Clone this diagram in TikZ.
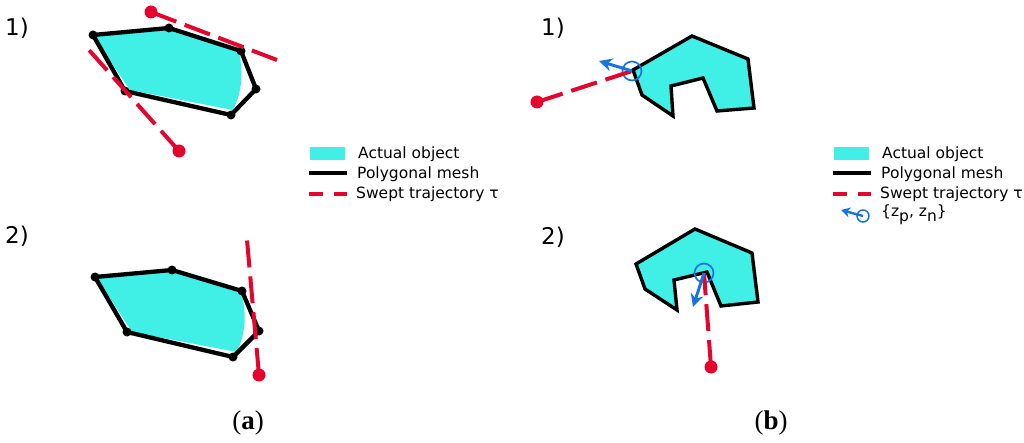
\documentclass[tikz,border=0pt]{standalone}
\usepackage{fontspec}
\setmainfont{DejaVu Sans}
\newfontfamily\capfont{Liberation Serif}
\usetikzlibrary{arrows.meta, positioning}
\definecolor{objcolor}{RGB}{64,240,230}
\definecolor{sweep}{RGB}{227,5,45}
\definecolor{normalblue}{RGB}{24,116,220}

\begin{document}
\begin{tikzpicture}[
    x=1pt, y=-1pt,
    vertex/.style={circle, fill=black, inner sep=0pt, minimum size=9pt},
    startdot/.style={circle, fill=sweep, inner sep=0pt, minimum size=13pt},
    ringmark/.style={circle, draw=normalblue, line width=1.7pt, inner sep=0pt, minimum size=19pt},
    legendring/.style={circle, draw=normalblue, line width=1.5pt, inner sep=0pt, minimum size=12pt},
    mesh/.style={line width=4.3pt, black, line join=round},
    thinmesh/.style={line width=3.4pt, black, line join=miter},
    traj/.style={line width=4pt, sweep, dash pattern=on 27pt off 9pt},
    legtraj/.style={line width=4pt, sweep, dash pattern=on 14pt off 11pt},
    normalarr/.style={-{Stealth[length=13pt, width=13pt]}, line width=3pt, normalblue},
    swatch/.style={fill=objcolor, minimum width=35pt, minimum height=13pt, inner sep=0pt},
    legtext/.style={anchor=west, inner sep=0pt, yshift=-1.5pt, font=\fontsize{15.5}{17}\selectfont},
    numlabel/.style={anchor=west, inner sep=0pt, yshift=-1pt, font=\fontsize{23}{25}\selectfont},
    caplabel/.style={inner sep=0pt, font=\fontsize{27}{30}\selectfont\capfont},
]
\useasboundingbox (0,0) rectangle (1024,443);

% (a) 1)
\fill[objcolor] (93,36) -- (169,29) -- (239,52) .. controls (243,70) and (243,90) .. (233,110) -- (130,90) -- cycle;
\node[vertex] (p1) at (93,35) {};
\node[vertex] (p2) at (169,28) {};
\node[vertex] (p3) at (241,51) {};
\node[vertex] (p4) at (256,89) {};
\node[vertex] (p5) at (231,115) {};
\node[vertex] (p6) at (125,91) {};
\draw[mesh] (p1.center) -- (p2.center) -- (p3.center) -- (p4.center) -- (p5.center) -- (p6.center) -- cycle;
\node[startdot] (s1) at (151,12) {};
\coordinate (e1) at (277,60);
\node[startdot] (s2) at (179,151) {};
\coordinate (e2) at (89,50);
\draw[traj] (s1.center) -- (e1);
\draw[traj] (s2.center) -- (e2);

% (a) 2)
\fill[objcolor] (97,278) -- (172,271) -- (241,293) .. controls (246,310) and (247,330) .. (237,352) -- (132,332) -- cycle;
\node[vertex] (q1) at (95,277) {};
\node[vertex] (q2) at (172,270) {};
\node[vertex] (q3) at (242,291) {};
\node[vertex] (q4) at (259,331) {};
\node[vertex] (q5) at (233,357) {};
\node[vertex] (q6) at (127,332) {};
\draw[mesh] (q1.center) -- (q2.center) -- (q3.center) -- (q4.center) -- (q5.center) -- (q6.center) -- cycle;
\node[startdot] (s3) at (259,375) {};
\coordinate (e3) at (247,240);
\draw[traj] (s3.center) -- (e3);

% (b) 1)
\coordinate (u1) at (633,70);
\coordinate (u2) at (692,36);
\coordinate (u3) at (748,59);
\coordinate (u4) at (754,108);
\coordinate (u5) at (717,111);
\coordinate (u6) at (703,78);
\coordinate (u7) at (671,86);
\coordinate (u8) at (673,116);
\coordinate (u9) at (642,95);
\draw[thinmesh, fill=objcolor] (u1) -- (u2) -- (u3) -- (u4) -- (u5) -- (u6) -- (u7) -- (u8) -- (u9) -- cycle;
\node[startdot] (s4) at (537,102) {};
\node[ringmark] (r1) at (632,71) {};
\coordinate (n1) at (599,61);
\draw[traj] (s4.center) -- (r1.center);
\draw[normalarr] (r1.center) -- (n1);

% (b) 2)
\coordinate (v1) at (636,264);
\coordinate (v2) at (695,229);
\coordinate (v3) at (752,253);
\coordinate (v4) at (758,302);
\coordinate (v5) at (721,306);
\coordinate (v6) at (707,272);
\coordinate (v7) at (674,280);
\coordinate (v8) at (677,310);
\coordinate (v9) at (645,289);
\draw[thinmesh, fill=objcolor] (v1) -- (v2) -- (v3) -- (v4) -- (v5) -- (v6) -- (v7) -- (v8) -- (v9) -- cycle;
\node[startdot] (s5) at (711,367) {};
\node[ringmark] (r2) at (704,273) {};
\coordinate (n2) at (693,307);
\draw[traj] (s5.center) -- (r2.center);
\draw[normalarr] (r2.center) -- (n2);

% legends
\node[swatch] (la) at (327.5,153.5) {};
\node[legtext] (la1) at (358,153) {Actual object};
\coordinate (lb0) at (309,173);
\coordinate (lb1) at (347,173);
\draw[line width=4pt] (lb0) -- (lb1);
\node[legtext] (la2) at (357,173) {Polygonal mesh};
\coordinate (lc0) at (309,194);
\coordinate (lc1) at (347,194);
\draw[legtraj] (lc0) -- (lc1);
\node[legtext] (la3) at (356,193) {Swept trajectory τ};

\node[swatch] (ma) at (851,153.5) {};
\node[legtext] (ma1) at (882,153) {Actual object};
\coordinate (mb0) at (833,173);
\coordinate (mb1) at (871,173);
\draw[line width=4pt] (mb0) -- (mb1);
\node[legtext] (ma2) at (881,173) {Polygonal mesh};
\coordinate (mc0) at (833,194);
\coordinate (mc1) at (871,194);
\draw[legtraj] (mc0) -- (mc1);
\node[legtext] (ma3) at (880,193) {Swept trajectory τ};
\node[legendring] (mr) at (863,216) {};
\coordinate (mn) at (841,210);
\draw[-{Stealth[length=9pt, width=10pt]}, line width=2.4pt, normalblue] (mr.center) -- (mn);
\node[legtext] (ma4) at (881,213) {\{z\raisebox{-5pt}{p}, z\raisebox{-5pt}{n}\}};

% numbers and captions
\node[numlabel] (a1) at (5,27) {1)};
\node[numlabel] (a2) at (5,235) {2)};
\node[numlabel] (b1) at (541,27) {1)};
\node[numlabel] (b2) at (541,236) {2)};
\node[caplabel] (capa) at (248,423) {(\textbf{a})};
\node[caplabel] (capb) at (771,423) {(\textbf{b})};
\end{tikzpicture}
\end{document}
